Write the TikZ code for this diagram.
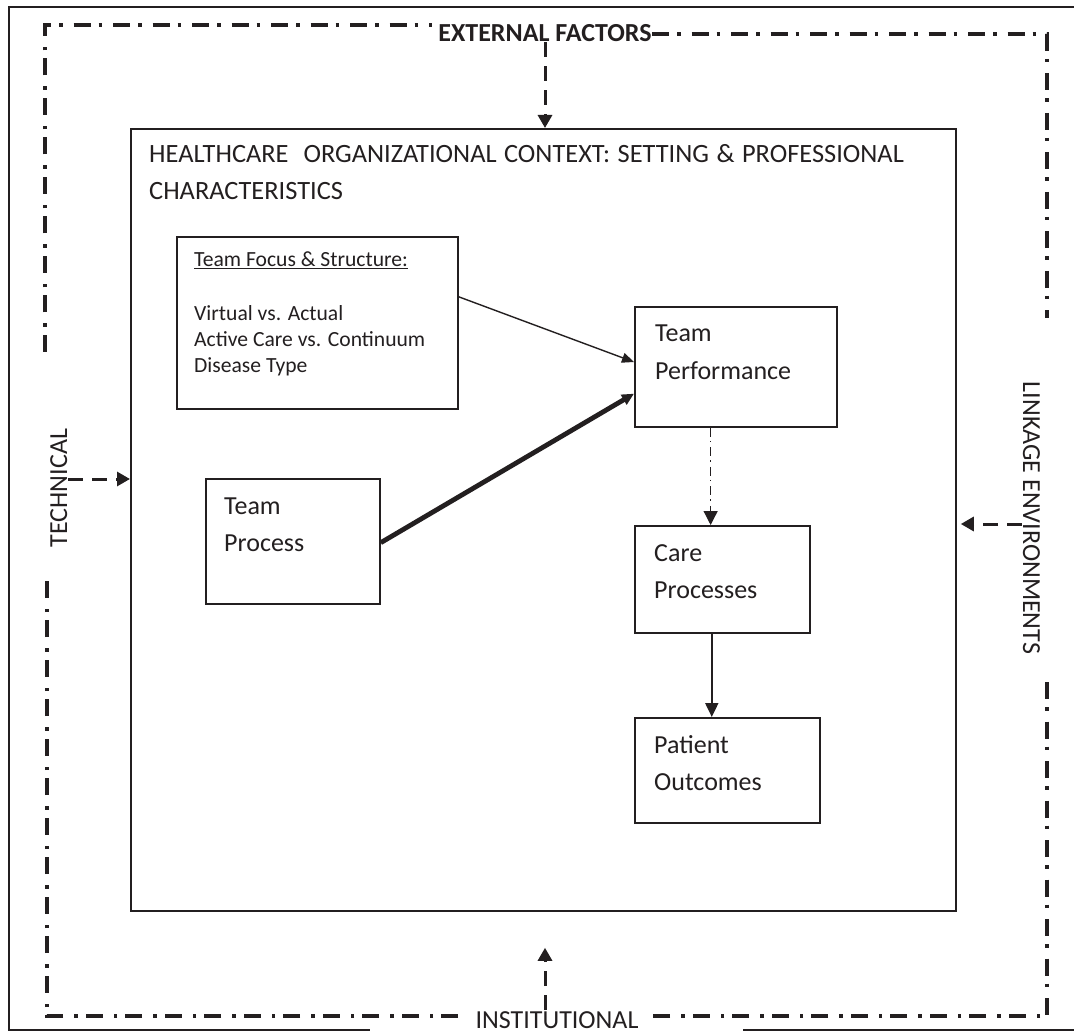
\documentclass[tikz,border=0pt]{standalone}
\usepackage{fontspec}
\setmainfont{Carlito}
\usetikzlibrary{arrows.meta,calc}
\definecolor{ink}{RGB}{35,31,32}
\newcommand{\widespaces}{\spaceskip=7.5pt\relax\xspaceskip=7.5pt\relax}
\begin{document}
\begin{tikzpicture}[x=1pt,y=-1pt,
  every node/.style={text=ink, inner sep=0pt},
  frame/.style={draw=ink, line width=2pt},
  boxnode/.style={draw=ink, line width=1.8pt, anchor=north west, rectangle},
  bigtext/.style={font=\fontsize{26}{37}\selectfont, align=left, anchor=base west},
  smalltext/.style={font=\fontsize{21.6}{26}\selectfont, align=left, anchor=base west},
  sidelabel/.style={font=\fontsize{26}{30}\selectfont, anchor=base},
  ddframe/.style={draw=ink, line width=3.3pt, dash pattern=on 17pt off 8pt on 3.5pt off 11pt},
  dasharrow/.style={draw=ink, line width=3pt, dash pattern=on 15pt off 9pt, -{Triangle[length=13pt,width=14pt]}},
  thinarrow/.style={draw=ink, line width=1.4pt, -{Triangle[length=12pt,width=10pt]}},
  thickarrow/.style={draw=ink, line width=4.8pt, -{Triangle[length=12pt,width=11pt]}},
  ddarrow/.style={draw=ink, line width=1.3pt, dash pattern=on 9pt off 4pt on 1.5pt off 5pt, -{Triangle[length=14pt,width=14pt]}},
  solidarrow/.style={draw=ink, line width=2pt, -{Triangle[length=14pt,width=13pt]}}]

\fill[white] (0,0) rectangle (1074,1032);
\useasboundingbox (0,0) rectangle (1074,1032);

% outer solid frame
\draw[frame] (1074,7) -- (9,7) -- (9,1030) -- (370,1030);
\draw[frame] (743,1030) -- (1074,1030);

% dash-dot frame
\draw[ddframe] (45,352) -- (45,25) -- (432,25);
\draw[ddframe] (652,34) -- (1047,34) -- (1047,318);
\draw[ddframe] (1047,682) -- (1047,1016) -- (650,1016);
\draw[ddframe] (458,1016) -- (47,1016) -- (47,577);

% labels of the environment
\node[sidelabel, font=\fontsize{26}{30}\selectfont\bfseries] (ef) at (545,42) {EXTERNAL FACTORS};
\node[sidelabel] (inst) at (557,1028) {INSTITUTIONAL};
\node[sidelabel, rotate=90] (tech) at (67,488) {TECHNICAL};
\node[sidelabel, rotate=-90] (link) at (1023,518) {LINKAGE ENVIRONMENTS};

% inner box
\node[boxnode, minimum width=825pt, minimum height=782pt] (inner) at (130,128) {};
\node[bigtext, font=\fontsize{26.4}{37}\selectfont] (title) at (149,200) {\widespaces HEALTHCARE\ \ ORGANIZATIONAL CONTEXT: SETTING \& PROFESSIONAL\\CHARACTERISTICS};

% boxes
\node[boxnode, minimum width=281pt, minimum height=172pt] (tf) at (176,236) {};
\node[smalltext] (tftext) at (194,373) {\underline{Team Focus \& Structure:}\\[2pt] \\Virtual vs. Actual\\Active Care vs. Continuum\\Disease Type};

\node[boxnode, minimum width=202pt, minimum height=120pt] (tp) at (634,306) {};
\node[bigtext] (tptext) at (655,379) {Team\\Performance};

\node[boxnode, minimum width=174pt, minimum height=125pt] (proc) at (205,478) {};
\node[bigtext] (proctext) at (224,551) {Team\\Process};

\node[boxnode, minimum width=175pt, minimum height=107pt] (care) at (634,525) {};
\node[bigtext] (caretext) at (654,598) {Care\\Processes};

\node[boxnode, minimum width=185pt, minimum height=105pt] (po) at (634,717) {};
\node[bigtext] (potext) at (654,790) {Patient\\Outcomes};

% connectors inside
\draw[thinarrow] ($(tf.north east)!0.35!(tf.south east)$) -- ($(tp.north west)!0.46!(tp.south west)$);
\draw[thickarrow] ($(proc.north east)!0.51!(proc.south east)$) -- ($(tp.north west)!0.72!(tp.south west)$);
\coordinate (tpout) at ($(tp.south west)!0.376!(tp.south east)$);
\draw[ddarrow] (tpout) -- (tpout |- care.north);
\coordinate (careout) at ($(care.south west)!0.44!(care.south east)$);
\draw[solidarrow] (careout) -- (careout |- po.north);

% environment arrows
\draw[dasharrow] (ef.south) -- (ef.south |- inner.north);
\coordinate (techsrc) at (68,479);
\draw[dasharrow] (techsrc) -- (techsrc -| inner.west);
\coordinate (linksrc) at (1022,524);
\draw[dasharrow, shorten >=4pt] (linksrc) -- (linksrc -| inner.east);
\coordinate (instsrc) at (545,1010);
\draw[dasharrow, shorten >=36pt] (instsrc) -- (instsrc |- inner.south);

\end{tikzpicture}
\end{document}
